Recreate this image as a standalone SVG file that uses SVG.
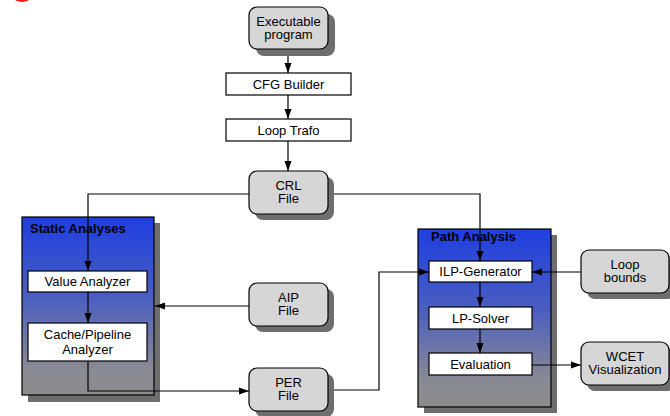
<svg xmlns="http://www.w3.org/2000/svg" width="670" height="416" viewBox="0 0 670 416">
<defs>
<linearGradient id="panel" x1="0" y1="0" x2="0" y2="1">
<stop offset="0" stop-color="#1e3ee0"/>
<stop offset="0.45" stop-color="#4a5ec0"/>
<stop offset="0.85" stop-color="#8a8a94"/>
<stop offset="1" stop-color="#8c8c8c"/>
</linearGradient>
<marker id="ah" viewBox="0 0 10 10" refX="10" refY="5" markerWidth="10" markerHeight="10" markerUnits="userSpaceOnUse" orient="auto">
<path d="M0,1.5 L10,5 L0,8.5 Z" fill="#000"/>
</marker>
</defs>
<style>
text{font-family:"Liberation Sans",Arial,sans-serif;font-size:13px;fill:#000;text-anchor:middle}
.title{font-weight:bold;text-anchor:start}
.shadow{fill:#6e6e6e}
.file{fill:#d6d6d6;stroke:#000;stroke-width:1.2}
.proc{fill:#fff;stroke:#000;stroke-width:1.2}
.panel{fill:url(#panel);stroke:#000;stroke-width:1.2}
.edge{fill:none;stroke:#000;stroke-width:1.2}
.arr{marker-end:url(#ah)}
</style>
<ellipse cx="22" cy="-4" rx="9" ry="6" fill="#ff1a1a"/>

<g id="static-analyses">
<rect class="shadow" x="28" y="223" width="132" height="179"/>
<rect class="panel" x="22" y="217" width="132" height="178"/>
<text class="title" x="30" y="233">Static Analyses</text>
</g>
<g id="path-analysis">
<rect class="shadow" x="424" y="235" width="133" height="178"/>
<rect class="panel" x="418" y="229" width="133" height="178"/>
<text class="title" x="431" y="241">Path Analysis</text>
</g>

<g id="connectors">
<path class="edge arr" d="M288,49 V73"/>
<path class="edge arr" d="M288,95 V119"/>
<path class="edge arr" d="M288,141 V171"/>
<path class="edge arr" d="M249,194 H88 V271"/>
<path class="edge arr" d="M328,194 H480 V261"/>
<path class="edge arr" d="M88,292 V323"/>
<path class="edge arr" d="M88,361 V391 H249"/>
<path class="edge arr" d="M249,306 H155"/>
<path class="edge arr" d="M328,390 H379 V272 H429"/>
<path class="edge arr" d="M581,272 H532"/>
<path class="edge arr" d="M480,282 V307"/>
<path class="edge arr" d="M480,329 V353"/>
<path class="edge arr" d="M532,365 H581"/>
</g>

<g id="executable-program">
<rect class="shadow" x="256" y="14" width="79" height="42" rx="8"/>
<rect class="file" x="249" y="7" width="79" height="42" rx="8"/>
<text x="288.5" y="25.5">Executable</text>
<text x="288.5" y="38.5">program</text>
</g>
<g id="cfg-builder">
<rect class="proc" x="226" y="73" width="125" height="22"/>
<text x="288.5" y="88.5">CFG Builder</text>
</g>
<g id="loop-trafo">
<rect class="proc" x="226" y="119" width="125" height="22"/>
<text x="288.5" y="134.5">Loop Trafo</text>
</g>
<g id="crl-file">
<rect class="shadow" x="255" y="177" width="79" height="43" rx="8"/>
<rect class="file" x="249" y="171" width="79" height="43" rx="8"/>
<text x="288.5" y="190">CRL</text>
<text x="288.5" y="203">File</text>
</g>
<g id="aip-file">
<rect class="shadow" x="255" y="289" width="79" height="43" rx="8"/>
<rect class="file" x="249" y="283" width="79" height="43" rx="8"/>
<text x="288.5" y="302">AIP</text>
<text x="288.5" y="315">File</text>
</g>
<g id="per-file">
<rect class="shadow" x="255" y="374" width="79" height="43" rx="8"/>
<rect class="file" x="249" y="368" width="79" height="43" rx="8"/>
<text x="288.5" y="387">PER</text>
<text x="288.5" y="400">File</text>
</g>
<g id="value-analyzer">
<rect class="proc" x="28" y="271" width="119" height="21"/>
<text x="87.5" y="286">Value Analyzer</text>
</g>
<g id="cache-pipeline-analyzer">
<rect class="proc" x="28" y="323" width="119" height="38"/>
<text x="87.5" y="339">Cache/Pipeline</text>
<text x="87.5" y="354">Analyzer</text>
</g>
<g id="ilp-generator">
<rect class="proc" x="429" y="261" width="103" height="21"/>
<text x="480.5" y="276">ILP-Generator</text>
</g>
<g id="lp-solver">
<rect class="proc" x="429" y="307" width="103" height="22"/>
<text x="480.5" y="322.5">LP-Solver</text>
</g>
<g id="evaluation">
<rect class="proc" x="429" y="353" width="103" height="22"/>
<text x="480.5" y="368.5">Evaluation</text>
</g>
<g id="loop-bounds">
<rect class="shadow" x="587" y="256" width="88" height="43" rx="8"/>
<rect class="file" x="581" y="250" width="88" height="43" rx="8"/>
<text x="625" y="269">Loop</text>
<text x="625" y="282">bounds</text>
</g>
<g id="wcet-visualization">
<rect class="shadow" x="587" y="348" width="88" height="43" rx="8"/>
<rect class="file" x="581" y="342" width="88" height="43" rx="8"/>
<text x="625" y="361">WCET</text>
<text x="625" y="374">Visualization</text>
</g>
</svg>
